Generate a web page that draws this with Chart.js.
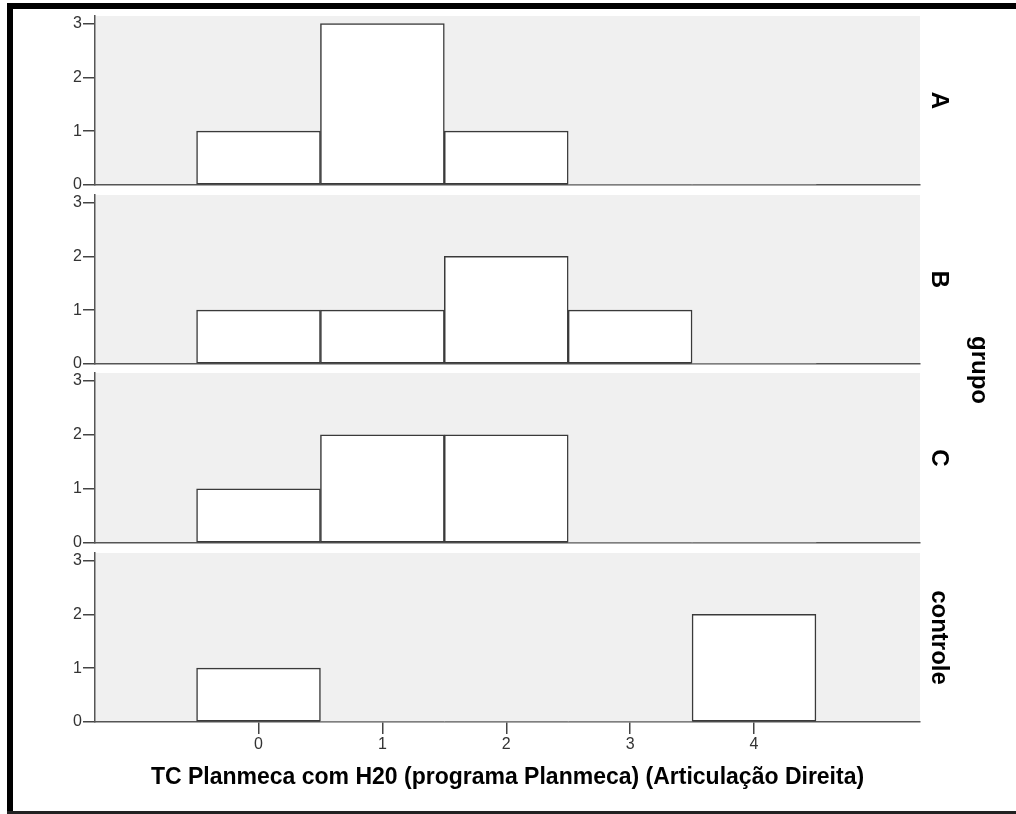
<!DOCTYPE html>
<html lang="pt">
<head>
    <meta charset="UTF-8">
    <title>TC Planmeca com H20 - grupo</title>
    <script src="https://cdn.jsdelivr.net/npm/chart.js"></script>
    <style>
        html, body { margin: 0; background: #fff; font-family: 'Liberation Sans', Arial, sans-serif; overflow: hidden; }
        #wrap { position: relative; width: 1016px; height: 814px; overflow: hidden; }
        #wrap canvas { position: absolute; left: 0; top: 0; }
        .bar { position: absolute; background: #000; }
        .grupo {
            position: absolute; left: 980px; top: 370px;
            transform: translate(-50%, -50%);
            writing-mode: vertical-rl;
            font-weight: bold; font-size: 24px; color: #000;
        }
    </style>
</head>
<body>
<div id="wrap">
    <div class="bar" style="left:7px; top:3px; width:1009px; height:6px;"></div>
    <div class="bar" style="left:7px; top:3px; width:6px; height:811px;"></div>
    <div class="bar" style="left:7px; top:811px; width:1009px; height:3px; background:#222;"></div>
    <canvas id="p0" width="1016" height="814"></canvas>
    <canvas id="p1" width="1016" height="814"></canvas>
    <canvas id="p2" width="1016" height="814"></canvas>
    <canvas id="p3" width="1016" height="814"></canvas>
    <div class="grupo">grupo</div>
</div>
<script>
    // dados
    const bins = [0, 1, 2, 3, 4];
    const groups = ['A', 'B', 'C', 'controle'];
    const countsA = [1, 3, 1, 0, 0];
    const countsB = [1, 1, 2, 1, 0];
    const countsC = [1, 2, 2, 0, 0];
    const countsControle = [1, 0, 0, 0, 2];
    const xTicks = [0, 1, 2, 3, 4];
    const yTicks = [0, 1, 2, 3];
    const xTitle = 'TC Planmeca com H20 (programa Planmeca) (Articulação Direita)';

    // posição dos painéis (px)
    const panelTops = [16, 195, 373, 553];
    const panelBottoms = [185, 364, 543, 722];
    const H = 814;
    const font = "'Liberation Sans', Arial, sans-serif";

    // fundo cinza da área do painel
    const panelBg = {
        id: 'panelBg',
        beforeDraw(chart) {
            const a = chart.chartArea, ctx = chart.ctx;
            ctx.save();
            ctx.fillStyle = '#f0f0f0';
            ctx.fillRect(a.left, a.top, a.right - a.left, a.bottom - a.top);
            ctx.restore();
        }
    };

    // rótulo do grupo à direita
    const stripLabel = {
        id: 'strip',
        afterDraw(chart, args, opts) {
            const a = chart.chartArea, ctx = chart.ctx;
            ctx.save();
            ctx.translate(939, (a.top + a.bottom) / 2);
            ctx.rotate(Math.PI / 2);
            ctx.font = 'bold 24px ' + font;
            ctx.fillStyle = '#000';
            ctx.textAlign = 'center';
            ctx.textBaseline = 'middle';
            ctx.fillText(opts.text, 0, 0);
            ctx.restore();
        }
    };

    function makePanel(i, counts) {
        const last = i === groups.length - 1;
        return new Chart(document.getElementById('p' + i), {
            type: 'bar',
            data: {
                datasets: [{
                    data: bins.map((b, k) => ({ x: b, y: counts[k] })),
                    backgroundColor: '#ffffff',
                    borderColor: '#3a3a3a',
                    borderWidth: c => (c.raw && c.raw.y > 0 ? 1.5 : 0),
                    borderSkipped: false,
                    barPercentage: 1,
                    categoryPercentage: 1
                }]
            },
            options: {
                responsive: false,
                animation: false,
                devicePixelRatio: 1,
                layout: {
                    padding: { top: panelTops[i], left: 0, right: 96, bottom: last ? 0 : H - panelBottoms[i] }
                },
                plugins: {
                    legend: { display: false },
                    tooltip: { enabled: false },
                    strip: { text: groups[i] }
                },
                scales: {
                    x: {
                        type: 'linear',
                        offset: false,
                        min: -1.32,
                        max: 5.34,
                        afterBuildTicks: s => { s.ticks = xTicks.map(v => ({ value: v })); },
                        afterFit: s => { s.height = last ? H - panelBottoms[i] : 0; },
                        grid: { offset: false, drawOnChartArea: false, drawTicks: last, tickLength: 12, color: '#444', lineWidth: 1.5 },
                        border: { color: '#555', width: 1.5 },
                        ticks: { display: last, padding: 1, color: '#333', font: { family: font, size: 16 } },
                        title: {
                            display: last,
                            text: xTitle,
                            color: '#000',
                            font: { family: font, size: 23, weight: 'bold' },
                            padding: { top: 0, bottom: 23 }
                        }
                    },
                    y: {
                        min: 0,
                        max: 3.14,
                        afterBuildTicks: s => { s.ticks = yTicks.map(v => ({ value: v })); },
                        afterFit: s => { s.width = 95; },
                        grid: { drawOnChartArea: false, tickLength: 12, color: '#444', lineWidth: 1.5 },
                        border: { color: '#555', width: 1.5 },
                        ticks: { padding: 1, color: '#333', font: { family: font, size: 16 } }
                    }
                }
            },
            plugins: [panelBg, stripLabel]
        });
    }

    makePanel(0, countsA);
    makePanel(1, countsB);
    makePanel(2, countsC);
    makePanel(3, countsControle);
</script>
</body>
</html>
